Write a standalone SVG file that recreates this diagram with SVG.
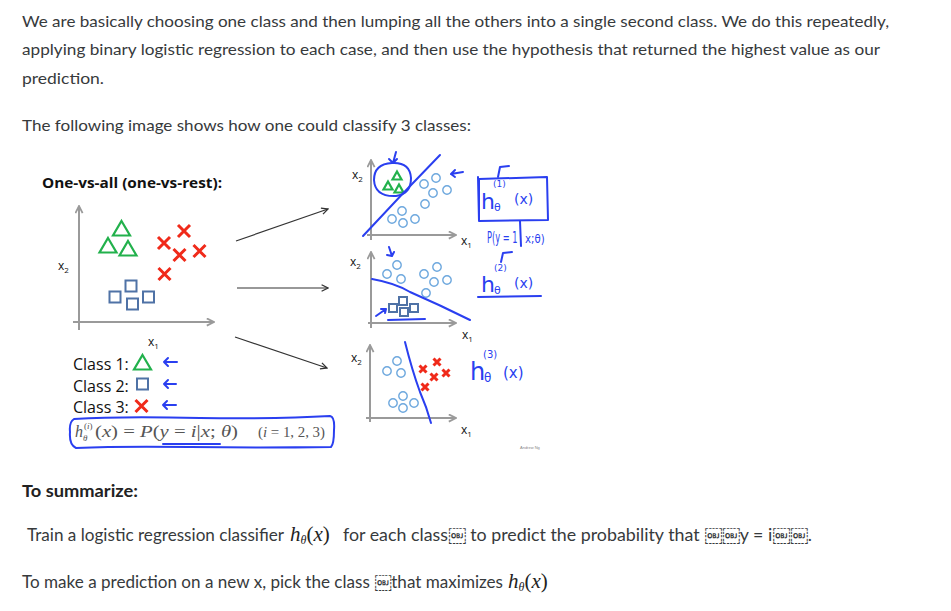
<svg xmlns="http://www.w3.org/2000/svg" width="951" height="611" viewBox="0 0 951 611">
<style>
.body{font-family:Lato,"Open Sans",sans-serif;font-size:16px;fill:#373a3c}
.sum{font-size:17px}
.bold{font-weight:bold;fill:#222}
.slide{font-family:"Open Sans",sans-serif;fill:#111}
.ax{stroke:#9a9a9a;stroke-width:2;fill:none}
.tri{stroke:#22b14c;fill:none;stroke-width:2.2}
.crs{stroke:#f02a1a;stroke-width:3;fill:none}
.sq{stroke:#4f72a6;fill:none;stroke-width:2}
.ci{stroke:#6ea8de;fill:none;stroke-width:1.4}
.pen{stroke:#2a3ff0;stroke-width:2;fill:none;stroke-linecap:round;stroke-linejoin:round}
.pent{font-family:"DejaVu Sans",sans-serif;fill:#2a3ff0}
.math{font-family:"Liberation Serif",serif;font-style:italic}
.lbl{font-family:"Open Sans",sans-serif;font-size:12px;fill:#111}
.conn{stroke:#333;stroke-width:1.2;fill:none}
</style>
<defs>
<marker id="ah" viewBox="0 0 10 10" refX="9" refY="5" markerWidth="9" markerHeight="9" markerUnits="userSpaceOnUse" orient="auto"><path d="M1,1 L9,5 L1,9" stroke="#9a9a9a" stroke-width="2" fill="none"/></marker>
<marker id="ch" viewBox="0 0 10 10" refX="9" refY="5" markerWidth="8" markerHeight="8" markerUnits="userSpaceOnUse" orient="auto"><path d="M1,1 L9,5 L1,9" stroke="#333" stroke-width="1.6" fill="none"/></marker>
<path id="tri" d="M0,-8 L8.5,6.5 L-8.5,6.5 Z"/>
<path id="crs" d="M-6,-6 L6,6 M6,-6 L-6,6"/>
<rect id="sq" x="-5.5" y="-5.5" width="11" height="11"/>
<path id="tri2" d="M0,-4.5 L4.5,3.5 L-4.5,3.5 Z"/>
<path id="crs2" d="M-3.5,-3.5 L3.5,3.5 M3.5,-3.5 L-3.5,3.5"/>
<rect id="sq2" x="-4" y="-4" width="8" height="8"/>
<circle id="ci" r="4.2"/>
</defs>
<rect width="951" height="611" fill="#fff"/>

<!-- page text -->
<g id="intro">
<text class="body" x="22" y="27" textLength="867" lengthAdjust="spacingAndGlyphs">We are basically choosing one class and then lumping all the others into a single second class. We do this repeatedly,</text>
<text class="body" x="22" y="55" textLength="858" lengthAdjust="spacingAndGlyphs">applying binary logistic regression to each case, and then use the hypothesis that returned the highest value as our</text>
<text class="body" x="22" y="84" textLength="82" lengthAdjust="spacingAndGlyphs">prediction.</text>
<text class="body" x="22" y="131" textLength="449" lengthAdjust="spacingAndGlyphs">The following image shows how one could classify 3 classes:</text>
</g>

<!-- slide: main plot -->
<g id="title"><text class="slide" x="42" y="188" font-size="14" font-weight="bold" textLength="180" lengthAdjust="spacingAndGlyphs">One-vs-all (one-vs-rest):</text></g>
<g id="main-plot">
<path class="ax" d="M79,330 V206" marker-end="url(#ah)"/>
<path class="ax" d="M73,322 H214" marker-end="url(#ah)"/>
<text class="lbl" x="58" y="270">x<tspan font-size="8" dy="3">2</tspan></text>
<text class="lbl" x="148" y="346">x<tspan font-size="8" dy="3">1</tspan></text>
<g class="tri"><use href="#tri" x="121.5" y="229"/><use href="#tri" x="108" y="246"/><use href="#tri" x="128" y="249"/></g>
<g class="crs"><use href="#crs" x="164" y="243"/><use href="#crs" x="184" y="231"/><use href="#crs" x="179.5" y="255"/><use href="#crs" x="199.5" y="251"/><use href="#crs" x="164.5" y="274"/></g>
<g class="sq"><use href="#sq" x="115" y="297"/><use href="#sq" x="131" y="286"/><use href="#sq" x="132.5" y="304"/><use href="#sq" x="148.5" y="297"/></g>
</g>

<g id="legend">
<text class="slide" x="73" y="370" font-size="16">Class 1:</text>
<text class="slide" x="73" y="392" font-size="16">Class 2:</text>
<text class="slide" x="73" y="413" font-size="16">Class 3:</text>
<use href="#tri" x="142.5" y="363" class="tri"/>
<use href="#sq" x="142.5" y="384" class="sq"/>
<use href="#crs" x="141.5" y="406" class="crs"/>
<path class="pen" stroke-width="1.6" d="M177,362 L164,362 M168,358 L164,362 L168,366"/>
<path class="pen" stroke-width="1.6" d="M176,384 L164,384 M168,380 L164,384 L168,388"/>
<path class="pen" stroke-width="1.6" d="M176,405 L163,405 M167,401 L163,405 L167,409"/>
</g>

<g id="formula">
<path class="pen" stroke-width="1.8" d="M74,419 Q120,416 200,418 Q280,419 330,416 Q335,417 334,430 Q334,444 331,447 Q260,448 190,447 Q120,446 76,448 Q69,445 70,432 Q69,422 74,419 Z"/>
<path class="pen" stroke-width="1.5" d="M163,444 L220,444"/>
<text class="math" x="75" y="437" font-size="16" fill="#555">h</text>
<text class="math" x="84" y="429" font-size="9" fill="#555"><tspan font-style="normal">(</tspan>i<tspan font-style="normal">)</tspan></text>
<text class="math" x="83" y="441" font-size="9" fill="#555">θ</text>
<text class="math" x="95" y="437" font-size="16" fill="#555" textLength="143" lengthAdjust="spacingAndGlyphs"><tspan font-style="normal">(</tspan>x<tspan font-style="normal">) = </tspan>P<tspan font-style="normal">(</tspan>y<tspan font-style="normal"> = </tspan>i<tspan font-style="normal">|</tspan>x<tspan font-style="normal">; </tspan>θ<tspan font-style="normal">)</tspan></text>
<text class="math" x="258" y="437" font-size="14" fill="#555" textLength="67" lengthAdjust="spacingAndGlyphs"><tspan font-style="normal">(</tspan>i<tspan font-style="normal"> = 1, 2, 3)</tspan></text>
</g>

<g id="connectors">
<path class="conn" d="M236,241 L328,209" marker-end="url(#ch)"/>
<path class="conn" d="M237,288 L328,288" marker-end="url(#ch)"/>
<path class="conn" d="M235,337 L327,368" marker-end="url(#ch)"/>
</g>

<!-- plot 1 -->
<g id="plot1">
<path class="ax" d="M371,240 V160" marker-end="url(#ah)"/>
<path class="ax" d="M367,235 H456" marker-end="url(#ah)"/>
<text class="lbl" x="352" y="179">x<tspan font-size="8" dy="3">2</tspan></text>
<text class="lbl" x="461" y="245">x<tspan font-size="8" dy="3">1</tspan></text>
<g class="tri" stroke-width="1.6"><use href="#tri2" x="397" y="176"/><use href="#tri2" x="388" y="186"/><use href="#tri2" x="399" y="189"/></g>
<g class="ci"><use href="#ci" x="424" y="184"/><use href="#ci" x="436" y="178"/><use href="#ci" x="433" y="193"/><use href="#ci" x="447" y="190"/><use href="#ci" x="425" y="204"/><use href="#ci" x="402" y="211"/><use href="#ci" x="392" y="219"/><use href="#ci" x="403" y="223"/><use href="#ci" x="415" y="219"/></g>
<path class="pen" d="M363,236 Q400,196 440,155"/>
<path class="pen" d="M392,163 Q374,164 374,180 Q375,197 396,196 Q411,194 411,178 Q410,162 392,163"/>
<path class="pen" stroke-width="1.6" d="M396,152 L393,163 M389,159 L393,163 L397,159"/>
<path class="pen" stroke-width="1.6" d="M463,172 L451,174 M455,170 L451,174 L455,177"/>
</g>

<g id="annot1">
<path class="pen" d="M479,179 L547,177 L548,220 L479,221 Z M478,177 L479,221"/>
<path class="pen" stroke-width="1.6" d="M498,177 L500,167 L509,166"/>
<text class="pent" x="493" y="187" font-size="9">(1)</text>
<text class="pent" x="481" y="209" font-size="22">h</text>
<text class="pent" x="494" y="211" font-size="11">θ</text>
<text class="pent" x="514" y="204" font-size="14">(x)</text>
<path class="pen" d="M520,221 L521,246"/>
<text class="pent" transform="translate(487,243) scale(0.55,1)" font-size="15">P(y = 1</text>
<text class="pent" transform="translate(525,243) scale(0.85,1)" font-size="12">x;θ)</text>
</g>

<!-- plot 2 -->
<g id="plot2">
<path class="ax" d="M371,328 V252" marker-end="url(#ah)"/>
<path class="ax" d="M368,323 H456" marker-end="url(#ah)"/>
<text class="lbl" x="350" y="266">x<tspan font-size="8" dy="3">2</tspan></text>
<text class="lbl" x="462" y="339">x<tspan font-size="8" dy="3">1</tspan></text>
<g class="ci"><use href="#ci" x="397" y="265"/><use href="#ci" x="387" y="274"/><use href="#ci" x="401" y="279"/><use href="#ci" x="424" y="274"/><use href="#ci" x="437" y="267"/><use href="#ci" x="434" y="282"/><use href="#ci" x="447" y="280"/><use href="#ci" x="426" y="293"/></g>
<g class="sq" stroke-width="1.5" stroke="#55709b"><use href="#sq2" x="393" y="308"/><use href="#sq2" x="403" y="301"/><use href="#sq2" x="404" y="312"/><use href="#sq2" x="414" y="308"/></g>
<path class="pen" d="M372,279 Q395,283 410,292 Q440,305 470,320"/>
<path class="pen" stroke-width="1.6" d="M389,247 L392,256 M387,255 L392,256 L394,252"/>
<path class="pen" stroke-width="1.6" d="M376,316 L386,309 M381,309 L386,309 L385,313"/>
<path class="pen" stroke-width="1.6" d="M388,320 L425,319"/>
</g>

<g id="annot2">
<path class="pen" stroke-width="1.6" d="M501,262 L503,253 L512,252"/>
<text class="pent" x="494" y="271" font-size="9">(2)</text>
<text class="pent" x="481" y="292" font-size="22">h</text>
<text class="pent" x="494" y="294" font-size="11">θ</text>
<text class="pent" x="514" y="288" font-size="14">(x)</text>
<path class="pen" d="M478,297 L541,296"/>
</g>

<!-- plot 3 -->
<g id="plot3">
<path class="ax" d="M370,422 V345" marker-end="url(#ah)"/>
<path class="ax" d="M366,418 H456" marker-end="url(#ah)"/>
<text class="lbl" x="351" y="362">x<tspan font-size="8" dy="3">2</tspan></text>
<text class="lbl" x="461" y="434">x<tspan font-size="8" dy="3">1</tspan></text>
<g class="ci"><use href="#ci" x="397" y="361"/><use href="#ci" x="387" y="371"/><use href="#ci" x="401" y="373"/><use href="#ci" x="403" y="396"/><use href="#ci" x="393" y="403"/><use href="#ci" x="403" y="408"/><use href="#ci" x="414" y="403"/></g>
<g class="crs" stroke-width="2"><use href="#crs2" x="437" y="362"/><use href="#crs2" x="423" y="369"/><use href="#crs2" x="434" y="377"/><use href="#crs2" x="446" y="373"/><use href="#crs2" x="425" y="387"/></g>
<path class="pen" d="M405,342 Q412,370 420,392 Q427,408 431,423"/>
<text x="520" y="449" font-family="Liberation Sans,sans-serif" font-size="4" fill="#888">Andrew Ng</text>
</g>

<g id="annot3">
<text class="pent" x="483" y="358" font-size="10">(3)</text>
<text class="pent" x="470" y="380" font-size="24">h</text>
<text class="pent" x="484" y="382" font-size="12">θ</text>
<text class="pent" x="503" y="378" font-size="15">(x)</text>
</g>

<!-- summary -->
<g id="summary">
<text class="body bold sum" x="22" y="497" textLength="116" lengthAdjust="spacingAndGlyphs">To summarize:</text>
<text class="body sum" x="27" y="541" textLength="257" lengthAdjust="spacingAndGlyphs">Train a logistic regression classifier</text>
<text class="math" x="290" y="541" font-size="21" fill="#222">h<tspan font-size="12" dy="3">θ</tspan><tspan font-style="normal" dy="-3">(</tspan>x<tspan font-style="normal">)</tspan></text>
<text class="body sum" x="343" y="541" textLength="469" lengthAdjust="spacingAndGlyphs">for each class&#xFFFC; to predict the probability that &#xFFFC;&#xFFFC;y = i&#xFFFC;&#xFFFC;.</text>
<text class="body sum" x="22" y="588" textLength="481" lengthAdjust="spacingAndGlyphs">To make a prediction on a new x, pick the class &#xFFFC;that maximizes</text>
<text class="math" x="508" y="588" font-size="21" fill="#222">h<tspan font-size="12" dy="3">θ</tspan><tspan font-style="normal" dy="-3">(</tspan>x<tspan font-style="normal">)</tspan></text>
</g>
</svg>
